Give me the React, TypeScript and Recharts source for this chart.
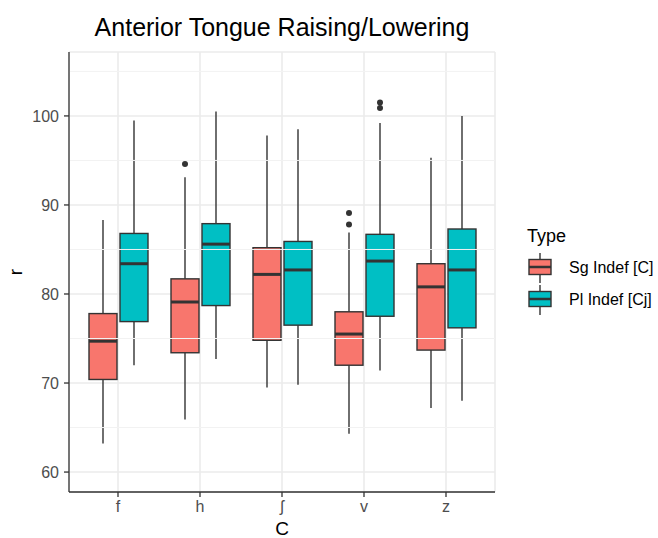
import { Bar, CartesianGrid, ComposedChart, ReferenceLine, XAxis, YAxis } from 'recharts';

const FONT = '"Liberation Sans", Arial, Helvetica, sans-serif';
const INK = '#333333';
const SG_FILL = '#F8766D';
const PL_FILL = '#00BFC4';

// five-number summaries, one entry per consonant
const categories = ['f', 'h', 'ʃ', 'v', 'z'];

const sgMin = [63.2, 65.9, 69.5, 64.3, 67.2];
const sgQ1 = [70.4, 73.4, 74.8, 72.0, 73.7];
const sgMedian = [74.7, 79.1, 82.2, 75.5, 80.8];
const sgQ3 = [77.8, 81.7, 85.2, 78.0, 83.4];
const sgMax = [88.3, 93.1, 97.8, 86.9, 95.3];
const sgOutliers = [[], [94.6], [], [87.8, 89.1], []];

const plMin = [72.0, 72.7, 69.8, 71.4, 68.0];
const plQ1 = [76.9, 78.7, 76.5, 77.5, 76.2];
const plMedian = [83.4, 85.6, 82.7, 83.7, 82.7];
const plQ3 = [86.8, 87.9, 85.9, 86.7, 87.3];
const plMax = [99.5, 100.5, 98.5, 99.2, 100.0];
const plOutliers = [[], [], [], [100.9, 101.5], []];

const yTicks = [60, 70, 80, 90, 100];
const yMinor = [65, 75, 85, 95, 105];

const rows = categories.map((c, i) => ({
  c,
  sg: { min: sgMin[i], q1: sgQ1[i], med: sgMedian[i], q3: sgQ3[i], max: sgMax[i], out: sgOutliers[i] },
  pl: { min: plMin[i], q1: plQ1[i], med: plMedian[i], q3: plQ3[i], max: plMax[i], out: plOutliers[i] },
}));

// the bar is a [min, max] range; everything else is placed on the same pixel scale
const makeBox = (key: 'sg' | 'pl', fill: string) => (props: any) => {
  const { x, y, width, height, payload } = props;
  const s = payload[key];
  const top = Math.min(y, y + height);
  const h = Math.abs(height);
  const toY = (v: number) => top + ((s.max - v) / (s.max - s.min)) * h;
  const cx = x + width / 2;
  return (
    <g>
      <line x1={cx} x2={cx} y1={toY(s.max)} y2={toY(s.q3)} stroke={INK} strokeWidth={1.4} />
      <line x1={cx} x2={cx} y1={toY(s.q1)} y2={toY(s.min)} stroke={INK} strokeWidth={1.4} />
      <rect x={x} y={toY(s.q3)} width={width} height={toY(s.q1) - toY(s.q3)} fill={fill} stroke={INK} strokeWidth={1.4} />
      <line x1={x} x2={x + width} y1={toY(s.med)} y2={toY(s.med)} stroke={INK} strokeWidth={3} />
      {s.out.map((o: number, j: number) => (
        <circle key={j} cx={cx} cy={toY(o)} r={3} fill={INK} />
      ))}
    </g>
  );
};

function LegendKey({ y, fill }: { y: number; fill: string }) {
  return (
    <g>
      <line x1={540} x2={540} y1={y - 14} y2={y + 16} stroke={INK} strokeWidth={1.4} />
      <rect x={529} y={y - 7.5} width={22} height={15} fill={fill} stroke={INK} strokeWidth={1.4} />
      <line x1={529} x2={551} y1={y} y2={y} stroke={INK} strokeWidth={2.5} />
    </g>
  );
}

export default function App() {
  return (
    <div style={{ position: 'absolute', left: 0, top: 0, width: 658, height: 538, background: '#fff', fontFamily: FONT }}>
      <ComposedChart width={658} height={538} data={rows} margin={{ top: 52, right: 163, bottom: 0, left: 0 }} barGap={3}>
        <CartesianGrid stroke="#EBEBEB" strokeWidth={1.6} />
        {yMinor.map((v) => (
          <ReferenceLine key={v} y={v} stroke="#F2F2F2" strokeWidth={1} />
        ))}
        <XAxis
          dataKey="c"
          padding={{ left: 8, right: 8 }}
          height={46}
          tickSize={5}
          tickMargin={4}
          tick={{ fill: '#4D4D4D', fontSize: 16, fontFamily: FONT }}
          axisLine={{ stroke: INK, strokeWidth: 1.3 }}
          tickLine={{ stroke: INK, strokeWidth: 1.3 }}
          label={{ value: 'C', position: 'insideBottom', offset: 3, fill: '#000', fontSize: 19, fontFamily: FONT }}
        />
        <XAxis xAxisId="top" orientation="top" dataKey="c" height={0} tick={false} tickLine={false} axisLine={{ stroke: INK, strokeWidth: 1.3 }} />
        <YAxis
          domain={[57.76, 107.18]}
          ticks={yTicks}
          width={69}
          tickSize={5}
          tickMargin={5}
          tick={{ fill: '#4D4D4D', fontSize: 16, fontFamily: FONT }}
          axisLine={{ stroke: INK, strokeWidth: 1.3 }}
          tickLine={{ stroke: INK, strokeWidth: 1.3 }}
          label={{
            content: (p: any) => (
              <text x={22} y={p.viewBox.y + p.viewBox.height / 2} transform={`rotate(-90 22 ${p.viewBox.y + p.viewBox.height / 2})`} textAnchor="middle" fontSize={19} fontFamily={FONT} fill="#000">
                r
              </text>
            ),
          }}
        />
        <YAxis yAxisId="right" orientation="right" width={0} tick={false} tickLine={false} axisLine={{ stroke: INK, strokeWidth: 1.3 }} />
        <Bar name="Sg Indef [C]" dataKey={(r: any) => [r.sg.min, r.sg.max]} fill={SG_FILL} barSize={28} shape={makeBox('sg', SG_FILL)} isAnimationActive={false} />
        <Bar name="Pl Indef [Cj]" dataKey={(r: any) => [r.pl.min, r.pl.max]} fill={PL_FILL} barSize={28} shape={makeBox('pl', PL_FILL)} isAnimationActive={false} />
      </ComposedChart>
      <svg width={658} height={538} style={{ position: 'absolute', left: 0, top: 0, pointerEvents: 'none' }}>
        <text x={282} y={36} textAnchor="middle" fontSize={25} fontFamily={FONT} fill="#000">
          Anterior Tongue Raising/Lowering
        </text>
        <text x={527} y={242} fontSize={18} fontFamily={FONT} fill="#000">
          Type
        </text>
        <LegendKey y={267} fill={SG_FILL} />
        <LegendKey y={299} fill={PL_FILL} />
        <text x={569} y={272.5} fontSize={16} fontFamily={FONT} fill="#000">
          Sg Indef [C]
        </text>
        <text x={569} y={304.5} fontSize={16} fontFamily={FONT} fill="#000">
          Pl Indef [Cj]
        </text>
      </svg>
    </div>
  );
}
